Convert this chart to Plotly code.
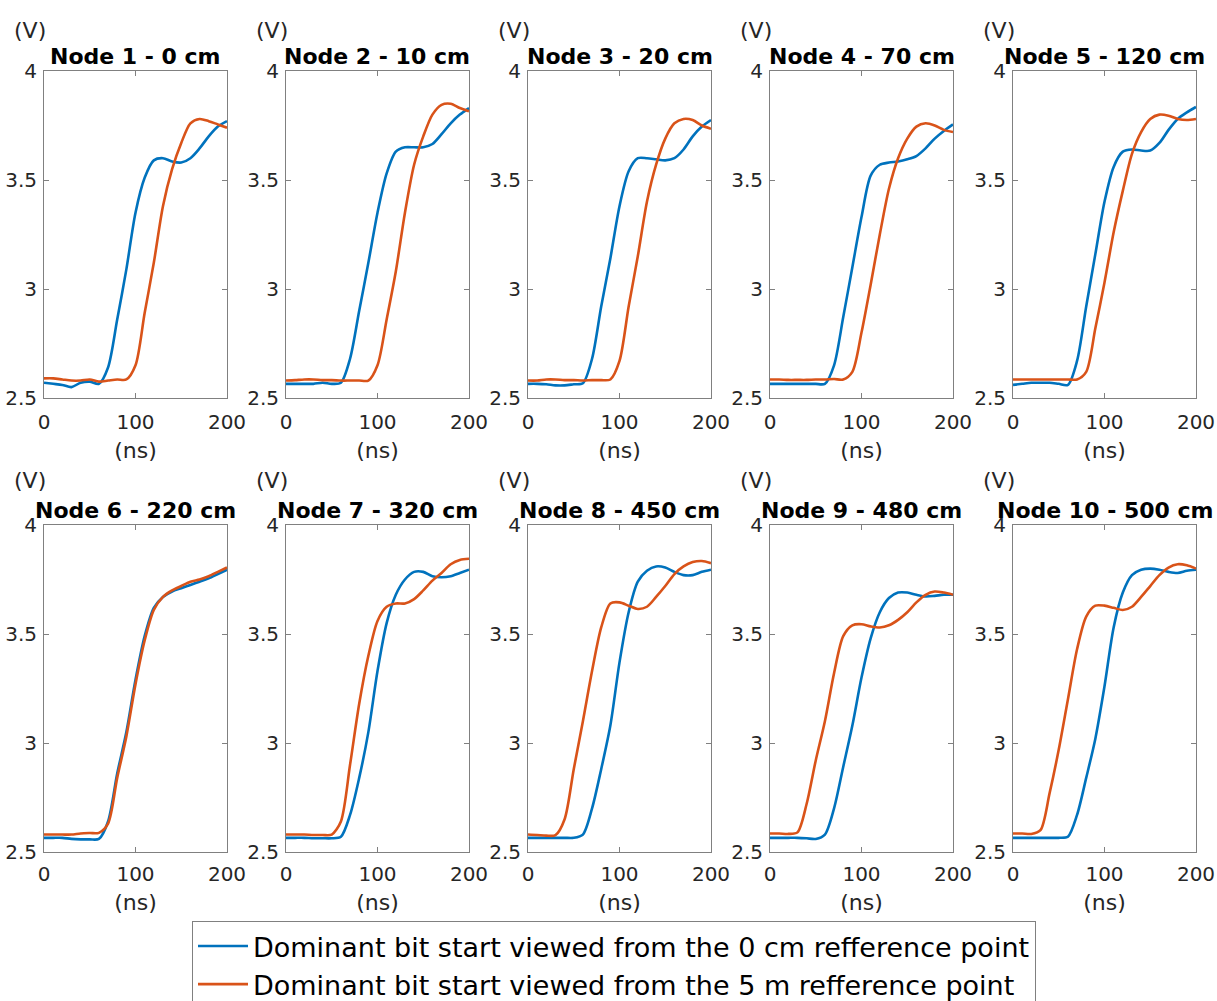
import plotly.graph_objects as go

# ---------------- data ----------------
time_ns = [0, 10, 20, 30, 40, 50, 60, 70, 80, 90, 100,
           110, 120, 130, 140, 150, 160, 170, 180, 190, 200]

node_titles = ["Node 1 - 0 cm", "Node 2 - 10 cm", "Node 3 - 20 cm", "Node 4 - 70 cm",
               "Node 5 - 120 cm", "Node 6 - 220 cm", "Node 7 - 320 cm", "Node 8 - 450 cm",
               "Node 9 - 480 cm", "Node 10 - 500 cm"]

series_names = ["Dominant bit start viewed from the 0 cm refference point",
                "Dominant bit start viewed from the 5 m refference point"]

# viewed from the 0 cm reference point (blue)
ref0_node1 = [2.57, 2.565, 2.56, 2.55, 2.57, 2.575, 2.565, 2.64, 2.86, 3.09, 3.35,
              3.51, 3.59, 3.6, 3.585, 3.58, 3.6, 3.645, 3.7, 3.745, 3.77]
ref0_node2 = [2.565, 2.565, 2.565, 2.565, 2.57, 2.565, 2.57, 2.68, 2.9, 3.12, 3.35,
              3.53, 3.63, 3.65, 3.65, 3.65, 3.665, 3.71, 3.76, 3.8, 3.83]
ref0_node3 = [2.565, 2.565, 2.563, 2.558, 2.558, 2.563, 2.568, 2.68, 2.92, 3.14, 3.38,
              3.54, 3.6, 3.6, 3.595, 3.59, 3.6, 3.64, 3.7, 3.745, 3.775]
ref0_node4 = [2.565, 2.565, 2.565, 2.565, 2.565, 2.565, 2.565, 2.65, 2.87, 3.1, 3.33,
              3.52, 3.57, 3.58, 3.585, 3.595, 3.61, 3.645, 3.69, 3.725, 3.755]
ref0_node5 = [2.56, 2.565, 2.57, 2.57, 2.57, 2.565, 2.56, 2.67, 2.92, 3.16, 3.4,
              3.56, 3.63, 3.64, 3.635, 3.635, 3.67, 3.73, 3.78, 3.81, 3.835]
ref0_node6 = [2.565, 2.565, 2.565, 2.56, 2.558, 2.558, 2.56, 2.64, 2.86, 3.05, 3.29,
              3.49, 3.62, 3.67, 3.695, 3.71, 3.725, 3.74, 3.755, 3.775, 3.795]
ref0_node7 = [2.565, 2.565, 2.565, 2.563, 2.563, 2.563, 2.57, 2.67, 2.84, 3.05, 3.33,
              3.55, 3.68, 3.75, 3.785, 3.785, 3.765, 3.76, 3.765, 3.78, 3.795]
ref0_node8 = [2.565, 2.565, 2.565, 2.565, 2.565, 2.565, 2.58, 2.7, 2.88, 3.08, 3.37,
              3.6, 3.74, 3.79, 3.81, 3.805, 3.785, 3.77, 3.77, 3.785, 3.795]
ref0_node9 = [2.565, 2.565, 2.565, 2.565, 2.563, 2.56, 2.58, 2.7, 2.89, 3.08, 3.3,
              3.48, 3.6, 3.665, 3.69, 3.69, 3.68, 3.672, 3.675, 3.68, 3.68]
ref0_node10 = [2.565, 2.565, 2.565, 2.565, 2.565, 2.565, 2.57, 2.67, 2.84, 3.02, 3.26,
               3.53, 3.69, 3.77, 3.795, 3.8, 3.795, 3.785, 3.78, 3.79, 3.795]

# viewed from the 5 m reference point (orange)
ref5_node1 = [2.59, 2.59, 2.585, 2.58, 2.58, 2.585, 2.575, 2.58, 2.585, 2.585, 2.65,
              2.89, 3.12, 3.38, 3.55, 3.67, 3.76, 3.78, 3.77, 3.755, 3.74]
ref5_node2 = [2.58, 2.582, 2.585, 2.585, 2.582, 2.582, 2.58, 2.58, 2.58, 2.58, 2.65,
              2.86, 3.08, 3.35, 3.57, 3.7, 3.8, 3.845, 3.85, 3.83, 3.815]
ref5_node3 = [2.58, 2.58, 2.585, 2.585, 2.582, 2.582, 2.58, 2.582, 2.582, 2.585, 2.67,
              2.92, 3.15, 3.4, 3.57, 3.69, 3.76, 3.78, 3.775, 3.75, 3.735]
ref5_node4 = [2.585, 2.585, 2.583, 2.583, 2.583, 2.585, 2.585, 2.587, 2.585, 2.62, 2.8,
              3.02, 3.25, 3.46, 3.6, 3.69, 3.745, 3.76, 3.75, 3.73, 3.72]
ref5_node5 = [2.585, 2.585, 2.585, 2.585, 2.585, 2.585, 2.585, 2.585, 2.62, 2.82, 3.03,
              3.26, 3.45, 3.62, 3.72, 3.78, 3.8, 3.795, 3.78, 3.775, 3.78]
ref5_node6 = [2.58, 2.58, 2.58, 2.58, 2.585, 2.587, 2.588, 2.63, 2.84, 3.03, 3.27,
              3.47, 3.61, 3.67, 3.7, 3.72, 3.74, 3.75, 3.765, 3.785, 3.805]
ref5_node7 = [2.58, 2.58, 2.58, 2.578, 2.578, 2.58, 2.64, 2.9, 3.18, 3.4, 3.56,
              3.625, 3.64, 3.64, 3.66, 3.7, 3.745, 3.78, 3.82, 3.84, 3.845]
ref5_node8 = [2.58, 2.578, 2.575, 2.577, 2.65, 2.88, 3.1, 3.33, 3.53, 3.64, 3.645,
              3.63, 3.615, 3.625, 3.67, 3.72, 3.775, 3.81, 3.83, 3.835, 3.825]
ref5_node9 = [2.585, 2.585, 2.583, 2.59, 2.72, 2.92, 3.1, 3.32, 3.49, 3.54, 3.545,
              3.535, 3.53, 3.54, 3.565, 3.6, 3.645, 3.68, 3.695, 3.69, 3.68]
ref5_node10 = [2.585, 2.585, 2.583, 2.6, 2.77, 2.97, 3.2, 3.43, 3.58, 3.63, 3.63,
               3.62, 3.61, 3.625, 3.67, 3.72, 3.77, 3.805, 3.82, 3.815, 3.8]

ref0_all = [ref0_node1, ref0_node2, ref0_node3, ref0_node4, ref0_node5,
            ref0_node6, ref0_node7, ref0_node8, ref0_node9, ref0_node10]
ref5_all = [ref5_node1, ref5_node2, ref5_node3, ref5_node4, ref5_node5,
            ref5_node6, ref5_node7, ref5_node8, ref5_node9, ref5_node10]

x_ticks = [0, 100, 200]
y_ticks = [2.5, 3, 3.5, 4]
y_tick_text = ["2.5", "3", "3.5", "4"]

# ---------------- layout geometry (pixels) ----------------
W, H = 1217, 1001
col_left = [44, 286, 528, 770, 1013]
col_w = 183
row_top = [71, 525]
row_h = 327

BLUE = "#0072BD"
ORANGE = "#D95319"
AXC = "#808080"
TXT = "#262626"
FONT = "DejaVu Sans"

fig = go.Figure()
annotations = []

for i in range(10):
    r, c = divmod(i, 5)
    idx = i + 1
    xa = "x" if idx == 1 else f"x{idx}"
    ya = "y" if idx == 1 else f"y{idx}"
    x0 = col_left[c] / W
    x1 = (col_left[c] + col_w) / W
    y1 = 1 - row_top[r] / H
    y0 = 1 - (row_top[r] + row_h) / H

    fig.add_trace(go.Scatter(x=time_ns, y=ref0_all[i], mode="lines",
                             line=dict(color=BLUE, width=2.6, shape="spline", smoothing=0.8),
                             name=series_names[0], showlegend=(i == 0),
                             xaxis=xa, yaxis=ya))
    fig.add_trace(go.Scatter(x=time_ns, y=ref5_all[i], mode="lines",
                             line=dict(color=ORANGE, width=2.6, shape="spline", smoothing=0.8),
                             name=series_names[1], showlegend=(i == 0),
                             xaxis=xa, yaxis=ya))

    axis_common = dict(showline=True, linecolor=AXC, linewidth=1, mirror="ticks",
                       ticks="inside", ticklen=5, tickcolor=AXC, showgrid=False,
                       zeroline=False, tickfont=dict(family=FONT, size=20, color=TXT))
    fig.layout[("xaxis" if idx == 1 else f"xaxis{idx}")] = dict(
        domain=[x0, x1], anchor=ya, range=[0, 200], tickvals=x_ticks,
        ticklabelstandoff=(6 if r == 0 else 4),
        title=dict(text="(ns)", font=dict(family=FONT, size=22, color=TXT), standoff=9),
        **axis_common)
    fig.layout[("yaxis" if idx == 1 else f"yaxis{idx}")] = dict(
        domain=[y0, y1], anchor=xa, range=[2.5, 4], tickvals=y_ticks,
        ticktext=y_tick_text, ticklabelstandoff=2, **axis_common)

    cx = (col_left[c] + col_w / 2) / W
    annotations.append(dict(text="<b>" + node_titles[i] + "</b>", xref="paper", yref="paper",
                            x=cx, y=1 - (56.5 if r == 0 else 510.5) / H,
                            xanchor="center", yanchor="middle", showarrow=False,
                            font=dict(family=FONT, size=22, color="black")))
    annotations.append(dict(text="(V)", xref="paper", yref="paper",
                            x=(col_left[c] - 14) / W, y=1 - (30.5 if r == 0 else 480.5) / H,
                            xanchor="center", yanchor="middle", showarrow=False,
                            font=dict(family=FONT, size=22, color=TXT)))

fig.update_layout(
    width=W, height=H,
    margin=dict(l=0, r=0, t=0, b=0, autoexpand=False),
    paper_bgcolor="white", plot_bgcolor="white",
    annotations=annotations,
    showlegend=True,
    legend=dict(x=192 / W, xanchor="left", y=1 - 921 / H, yanchor="top",
                bgcolor="white", bordercolor=AXC, borderwidth=1,
                font=dict(family=FONT, size=27, color="black"),
                itemwidth=50, tracegroupgap=0),
)

fig.write_html("out.html")
